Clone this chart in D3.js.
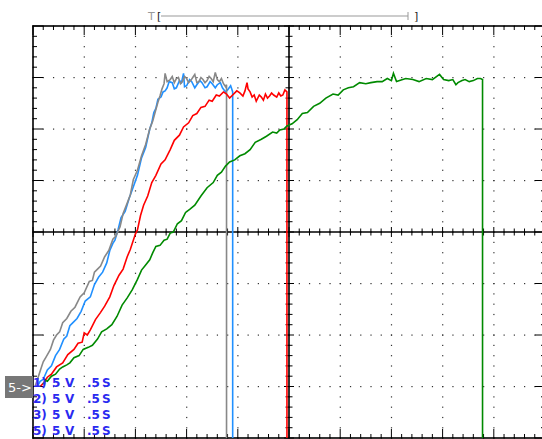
<!DOCTYPE html>
<html>
<head>
<meta charset="utf-8">
<script src="https://cdn.jsdelivr.net/npm/d3@7"></script>
<style>
  body { margin: 0; background: #fff; }
  svg { display: block; }
</style>
</head>
<body>
<script>
"use strict";
// scope settings: 0.5 s / div, 5 V / div
const legendRows = ["1)", "2)", "3)", "5)"]
const legendVolt = "5 V"
const legendTime = ".5 S"

// traces as [seconds, volts]
const blue = [[0.04,0],[0.07,0.5],[0.10,0.7],[0.14,1.6],[0.18,2.0],[0.22,3.0],[0.26,3.6],[0.30,4.6],[0.33,4.9],[0.36,5.9],[0.39,6.2],[0.43,6.6],[0.47,7.3],[0.51,8.3],[0.56,8.7],[0.60,9.9],[0.64,10.6],[0.68,11.1],[0.72,12.0],[0.75,13.2],[0.78,13.9],[0.80,14.2],[0.83,15.2],[0.86,16.4],[0.90,17.0],[0.94,18.3],[0.98,19.4],[1.02,20.5],[1.06,22.2],[1.10,23.2],[1.14,25.0],[1.16,25.6],[1.18,26.6],[1.20,27.0],[1.22,27.9],[1.25,28.1],[1.27,28.6],[1.29,28.7],[1.31,29.0],[1.33,29.6],[1.36,29.5],[1.38,28.9],[1.40,29.0],[1.43,29.7],[1.45,29.5],[1.47,30.4],[1.48,29.1],[1.50,29.2],[1.53,29.8],[1.55,29.6],[1.58,29.0],[1.60,29.3],[1.63,29.7],[1.65,29.5],[1.68,29.0],[1.70,29.1],[1.73,29.6],[1.75,29.4],[1.78,29.0],[1.80,29.3],[1.83,29.5],[1.85,29.0],[1.88,28.6],[1.90,28.8],[1.93,29.2],[1.94,28.9],[1.95,28.6],[1.95,-6]]
const gray = [[0.02,0],[0.05,0.9],[0.07,1.5],[0.10,2.4],[0.13,2.9],[0.17,3.6],[0.20,4.5],[0.23,5.0],[0.26,5.3],[0.29,6.2],[0.33,6.6],[0.37,7.3],[0.41,7.7],[0.46,8.7],[0.50,9.1],[0.55,10.2],[0.58,10.3],[0.60,11.1],[0.63,11.4],[0.66,11.7],[0.70,12.6],[0.74,13.2],[0.78,14.3],[0.81,14.6],[0.85,15.5],[0.88,16.8],[0.92,17.8],[0.95,18.6],[0.98,20.1],[1.02,21.0],[1.06,22.4],[1.10,23.5],[1.14,25.0],[1.17,25.8],[1.20,26.9],[1.22,27.6],[1.24,28.2],[1.26,28.9],[1.28,29.4],[1.29,30.4],[1.31,29.6],[1.34,29.8],[1.36,30.1],[1.38,29.5],[1.40,29.9],[1.42,30.0],[1.44,29.4],[1.46,29.6],[1.48,30.1],[1.50,29.9],[1.52,29.5],[1.54,29.7],[1.56,30.0],[1.58,30.3],[1.60,29.5],[1.62,29.6],[1.64,30.0],[1.66,29.8],[1.68,29.5],[1.70,29.7],[1.72,30.1],[1.74,29.9],[1.76,29.6],[1.78,30.5],[1.80,29.8],[1.82,29.6],[1.84,29.9],[1.86,29.4],[1.88,29.1],[1.89,29.3],[1.89,-6]]
const red = [[0.07,0],[0.10,0.3],[0.14,0.9],[0.18,1.2],[0.23,1.9],[0.29,2.3],[0.34,3.1],[0.40,3.6],[0.44,4.2],[0.48,4.3],[0.50,5.2],[0.53,5.0],[0.56,5.5],[0.61,6.5],[0.66,7.2],[0.70,7.8],[0.75,8.7],[0.79,9.8],[0.84,10.8],[0.88,11.4],[0.92,12.6],[0.95,13.3],[0.97,13.9],[1.00,14.8],[1.02,15.2],[1.05,16.6],[1.08,17.6],[1.12,18.5],[1.16,19.8],[1.20,20.5],[1.25,21.6],[1.29,22.0],[1.34,23.0],[1.38,23.9],[1.43,24.4],[1.47,25.2],[1.52,25.6],[1.56,26.3],[1.60,26.5],[1.64,27.1],[1.68,27.2],[1.72,27.8],[1.75,27.7],[1.79,28.3],[1.82,28.2],[1.86,28.6],[1.89,28.4],[1.92,28.0],[1.95,28.3],[1.99,28.7],[2.02,28.5],[2.05,28.2],[2.07,28.7],[2.09,29.5],[2.10,28.9],[2.12,28.6],[2.14,28.1],[2.16,28.3],[2.18,27.7],[2.19,27.9],[2.21,28.3],[2.23,28.1],[2.25,27.8],[2.27,28.4],[2.29,28.0],[2.31,28.2],[2.33,28.5],[2.35,28.3],[2.38,28.1],[2.40,28.5],[2.42,28.2],[2.44,28.3],[2.46,28.8],[2.48,28.6],[2.48,-6]]
const green = [[0.10,0.2],[0.12,0.6],[0.14,0.5],[0.18,1.0],[0.22,1.2],[0.26,1.7],[0.29,1.9],[0.33,2.1],[0.36,2.3],[0.40,2.8],[0.45,3.0],[0.49,3.6],[0.54,3.8],[0.58,4.0],[0.63,4.6],[0.67,5.3],[0.72,5.6],[0.77,6.0],[0.82,6.8],[0.87,7.9],[0.92,8.6],[0.97,9.4],[1.02,10.4],[1.06,11.3],[1.10,11.8],[1.14,12.3],[1.17,13.0],[1.20,13.6],[1.24,13.7],[1.28,14.2],[1.31,14.3],[1.34,14.9],[1.37,15.0],[1.41,15.8],[1.45,16.1],[1.49,16.9],[1.53,17.2],[1.58,17.6],[1.64,18.5],[1.70,19.3],[1.76,19.8],[1.80,20.5],[1.84,20.8],[1.88,21.4],[1.92,21.8],[1.97,22.0],[2.02,22.4],[2.07,22.6],[2.12,23.0],[2.17,23.7],[2.23,24.0],[2.28,24.3],[2.34,24.7],[2.38,24.6],[2.41,24.9],[2.45,25.0],[2.48,25.3],[2.53,25.5],[2.58,25.9],[2.63,26.5],[2.68,26.6],[2.74,27.2],[2.80,27.5],[2.86,28.0],[2.93,28.4],[2.98,28.3],[3.03,28.8],[3.08,29.0],[3.13,29.1],[3.19,29.5],[3.25,29.4],[3.30,29.5],[3.36,29.6],[3.41,29.6],[3.46,29.9],[3.50,29.7],[3.52,30.4],[3.55,29.6],[3.58,29.7],[3.64,29.9],[3.71,29.8],[3.77,29.6],[3.84,29.9],[3.90,29.8],[3.97,30.3],[4.01,29.8],[4.06,29.7],[4.10,29.8],[4.13,29.3],[4.15,29.5],[4.19,29.7],[4.22,29.8],[4.26,29.6],[4.30,29.7],[4.34,29.9],[4.37,29.9],[4.39,29.8],[4.39,-6]]

const traces = [
    {data: blue, color: "#2090ff"},
    {data: gray, color: "#888888"},
    {data: red, color: "#ff0000"},
    {data: green, color: "#008a00"}
]

const W = 542, H = 439
const svg = d3.select("body").append("svg")
    .attr("width", W)
    .attr("height", H)

// 10 x 8 divisions
const x = d3.scaleLinear().domain([0, 5]).range([33, 545])
const y = d3.scaleLinear().domain([-5, 35]).range([438, 26])

const majorT = d3.range(0, 5.001, 0.5)
const majorV = d3.range(-5, 35.001, 5)
const minorT = d3.range(0, 5.001, 0.1)
const minorV = d3.range(-5, 35.001, 1)

// dotted graticule
const dots = svg.append("g").attr("fill", "#333")
majorT.forEach(t => {
    minorV.forEach(v => {
        dots.append("rect").attr("x", x(t) - 0.5).attr("y", y(v) - 0.5).attr("width", 1.2).attr("height", 1.2)
    })
})
majorV.forEach(v => {
    minorT.forEach(t => {
        dots.append("rect").attr("x", x(t) - 0.5).attr("y", y(v) - 0.5).attr("width", 1.2).attr("height", 1.2)
    })
})

// clip for traces
svg.append("clipPath").attr("id", "plot")
    .append("rect").attr("x", x(0)).attr("y", y(35)).attr("width", x(5) - x(0)).attr("height", y(-5) - y(35))

// center cross axes with ticks
const axes = svg.append("g").attr("stroke", "#000").attr("stroke-width", 1)
axes.append("line").attr("x1", x(2.5)).attr("x2", x(2.5)).attr("y1", y(35)).attr("y2", y(-5)).attr("stroke-width", 1.6)
axes.append("line").attr("x1", x(0)).attr("x2", x(5)).attr("y1", y(15)).attr("y2", y(15)).attr("stroke-width", 1.6)
minorV.forEach(v => {
    const len = v % 5 === 0 ? 5 : 3.5
    axes.append("line").attr("x1", x(2.5) - len).attr("x2", x(2.5) + len).attr("y1", y(v)).attr("y2", y(v))
})
minorT.forEach((t, i) => {
    const len = i % 5 === 0 ? 5 : 3.5
    axes.append("line").attr("x1", x(t)).attr("x2", x(t)).attr("y1", y(15) - len).attr("y2", y(15) + len)
})

// frame ticks
minorT.forEach((t, i) => {
    const len = i % 5 === 0 ? 9 : 4
    axes.append("line").attr("x1", x(t)).attr("x2", x(t)).attr("y1", y(35)).attr("y2", y(35) + len)
    axes.append("line").attr("x1", x(t)).attr("x2", x(t)).attr("y1", y(-5)).attr("y2", y(-5) - len)
})
minorV.forEach(v => {
    const len = (v + 5) % 5 === 0 ? 10 : 4
    axes.append("line").attr("x1", x(0)).attr("x2", x(0) + len).attr("y1", y(v)).attr("y2", y(v))
    axes.append("line").attr("x1", x(5)).attr("x2", x(5) - len).attr("y1", y(v)).attr("y2", y(v))
})

// frame
svg.append("rect")
    .attr("x", x(0)).attr("y", y(35))
    .attr("width", x(5) - x(0)).attr("height", y(-5) - y(35))
    .attr("fill", "none").attr("stroke", "#000").attr("stroke-width", 1.6)

// traces
const line = d3.line().x(d => x(d[0])).y(d => y(d[1]))
svg.append("g").attr("clip-path", "url(#plot)")
    .selectAll("path")
    .data(traces)
    .enter()
    .append("path")
        .attr("d", d => line(d.data))
        .attr("fill", "none")
        .attr("stroke", d => d.color)
        .attr("stroke-width", 1.6)
        .attr("stroke-linejoin", "miter")

// trigger window indicator on top
const trig = svg.append("g").attr("font-family", "DejaVu Sans, sans-serif").attr("font-size", 11)
trig.append("text").attr("x", 148).attr("y", 20).attr("fill", "#999").text("T")
trig.append("line").attr("x1", 161).attr("x2", 408).attr("y1", 16).attr("y2", 16).attr("stroke", "#999").attr("stroke-width", 1)
trig.append("line").attr("x1", 408).attr("x2", 408).attr("y1", 12).attr("y2", 20).attr("stroke", "#999").attr("stroke-width", 1)
trig.append("text").attr("x", 157).attr("y", 20).attr("fill", "#222").text("[")
trig.append("text").attr("x", 414).attr("y", 20).attr("fill", "#222").text("]")

// channel marker
svg.append("rect").attr("x", 5).attr("y", 376).attr("width", 28).attr("height", 22).attr("fill", "#777")
svg.append("text").attr("x", 8).attr("y", 392)
    .attr("font-family", "DejaVu Sans, sans-serif").attr("font-size", 13)
    .attr("fill", "#fff").text("5->")

// channel settings
const leg = svg.append("g")
    .attr("font-family", "DejaVu Sans, sans-serif")
    .attr("font-size", 12)
    .attr("font-weight", "bold")
    .attr("fill", "#2a2af0")
legendRows.forEach((r, i) => {
    const yy = 387 + i * 16
    leg.append("text").attr("x", 33).attr("y", yy).text(r)
    leg.append("text").attr("x", 52).attr("y", yy).text(legendVolt.split(" ")[0])
    leg.append("text").attr("x", 65).attr("y", yy).text(legendVolt.split(" ")[1])
    leg.append("text").attr("x", 87).attr("y", yy).text(legendTime.split(" ")[0])
    leg.append("text").attr("x", 102).attr("y", yy).text(legendTime.split(" ")[1])
})
</script>
</body>
</html>
